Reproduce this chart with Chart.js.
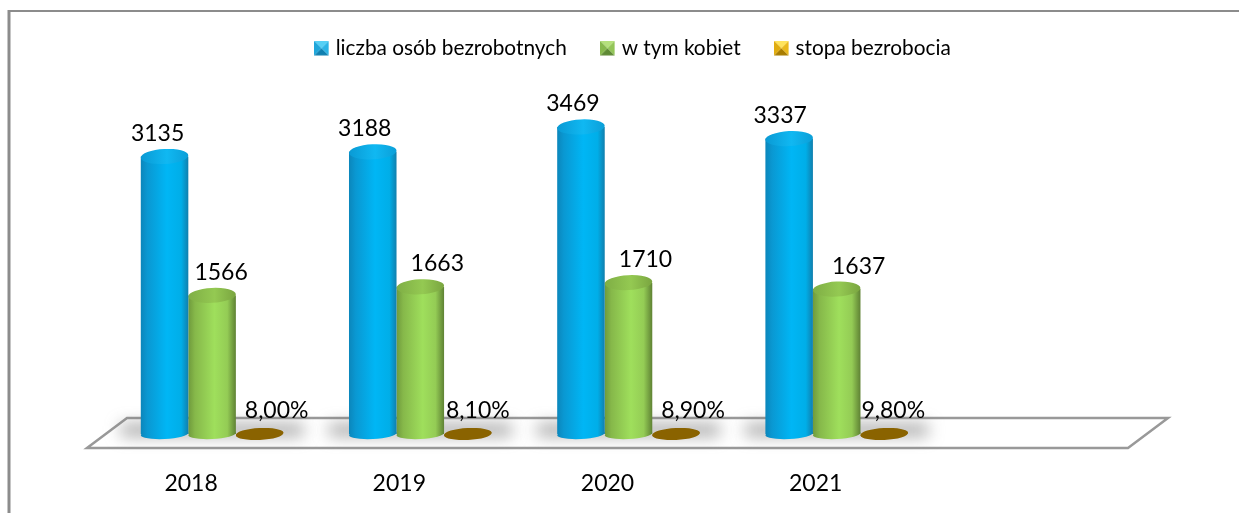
<!DOCTYPE html>
<html lang="pl"><head><meta charset="utf-8">
<style>html,body{margin:0;padding:0;background:#fff}#w{width:1239px;height:513px;position:relative}</style>
<script src="https://cdn.jsdelivr.net/npm/chart.js@4"></script>
</head><body><div id="w"><canvas id="c" width="1239" height="513"></canvas></div>
<script>
const categories = ['2018', '2019', '2020', '2021', ''];
const seriesNames = ['liczba osób bezrobotnych', 'w tym kobiet', 'stopa bezrobocia'];
const bezrobotni = [3135, 3188, 3469, 3337, null];
const kobiety = [1566, 1663, 1710, 1637, null];
const stopa = [0.08, 0.081, 0.089, 0.098, null];

// manual horizontal shifts of the value labels, as placed in the source chart
const labelShiftBlue = [-7, -8, -8, -9];
const labelShiftGreen = [9, 17, 17, 22];
const labelShiftBrown = [17, 10, 17, 9];

const FONT = 'Lato, Carlito, Calibri, sans-serif';
const ramps = [
  [[0,'#0b86bb'],[0.14,'#0a98d2'],[0.55,'#00b6f5'],[0.85,'#00aee8'],[1,'#117fad']],
  [[0,'#6f9a3c'],[0.14,'#86b84a'],[0.55,'#9fdf5c'],[0.82,'#94cc55'],[1,'#5f8234']],
  [[0,'#7f5c00'],[1,'#8f6700']]
];
const capRamps = [
  [[0,'#0a9ad4'],[0.55,'#10b8f2'],[1,'#0b9fd8']],
  [[0,'#7fae45'],[0.55,'#94c952'],[1,'#7aa540']],
  [[0,'#8a6300'],[1,'#8a6300']]
];
const swatchCols = [
  ['#55d0f5','#0f7fb0','#1fa6da','#2bb4e6'],
  ['#b5e07c','#5f8a35','#86b84c','#93c558'],
  ['#ffe45c','#a87c00','#e0ac10','#eab91c']
];
function swatch(i){
  const c = document.createElement('canvas'); c.width = 15; c.height = 15;
  const g = c.getContext('2d'), [t,b,l,r] = swatchCols[i], s = 14.5;
  const poly = (col, pts) => { g.fillStyle = col; g.beginPath(); pts.forEach((p,k)=>k?g.lineTo(p[0],p[1]):g.moveTo(p[0],p[1])); g.closePath(); g.fill(); };
  poly(t,[[0,0],[s,0],[s/2,s/2]]);
  poly(b,[[0,s],[s,s],[s/2,s/2]]);
  poly(l,[[0,0],[0,s],[s/2,s/2]]);
  poly(r,[[s,0],[s,s],[s/2,s/2]]);
  return c;
}
const swatches = [0,1,2].map(swatch);

function hGrad(ctx, x0, x1, stops){
  const g = ctx.createLinearGradient(x0,0,x1,0);
  stops.forEach(s=>g.addColorStop(s[0],s[1]));
  return g;
}
const TILT = -0.05;
const scene = {
  id: 'scene',
  afterLayout(chart){ if (chart.legend){ chart.legend.left += 6; chart.legend.right += 6; chart.legend.top -= 0.5; } },
  beforeDatasetsDraw(chart){
    const {ctx, chartArea:a} = chart;
    ctx.save();
    // frame
    ctx.strokeStyle = '#8c8c8c'; ctx.lineWidth = 2;
    ctx.beginPath(); ctx.moveTo(9,11); ctx.lineTo(1239,11); ctx.stroke();
    ctx.lineWidth = 3;
    ctx.beginPath(); ctx.moveTo(9,10); ctx.lineTo(9,513); ctx.stroke();
    // floor
    const yb = a.bottom + 14, yt = a.bottom - 16;
    ctx.strokeStyle = '#999'; ctx.lineWidth = 2.5; ctx.lineJoin = 'miter';
    ctx.fillStyle = '#fff';
    ctx.beginPath(); ctx.moveTo(a.left-21,yb); ctx.lineTo(a.left+19,yt); ctx.lineTo(a.right+19,yt); ctx.lineTo(a.right-21,yb); ctx.closePath(); ctx.fill(); ctx.stroke();
    // soft shadows on the floor
    const m0 = chart.getDatasetMeta(0), m2 = chart.getDatasetMeta(2);
    ctx.filter = 'blur(8px)'; ctx.fillStyle = 'rgba(110,110,110,0.62)';
    categories.forEach((_,i)=>{
      if (bezrobotni[i]==null) return;
      const b0 = m0.data[i], b2 = m2.data[i];
      const l = b0.x - b0.width/2 - 20, r = b2.x + b2.width/2 + 20;
      ctx.fillRect(l, a.bottom - 10, r - l, 12);
    });
    ctx.filter = 'none';
    ctx.restore();
  },
  beforeDatasetDraw(chart, args){
    const i = args.index, vals = chart.data.datasets[i].data;
    args.meta.data.forEach((el,k)=>{
      if (vals[k]==null) return;
      el.options = Object.assign({}, el.options, {backgroundColor: hGrad(chart.ctx, el.x-el.width/2, el.x+el.width/2, ramps[i])});
    });
  },
  afterDatasetDraw(chart, args){
    const {ctx, chartArea:a} = chart, i = args.index, meta = args.meta, vals = chart.data.datasets[i].data;
    ctx.save();
    meta.data.forEach((el,k)=>{
      if (vals[k]==null) return;
      const rx = el.width/2, x0 = el.x-rx, x1 = el.x+rx;
      // bottom rounding
      ctx.fillStyle = hGrad(ctx,x0,x1,ramps[i]);
      ctx.beginPath(); ctx.ellipse(el.x,a.bottom,rx,5,TILT,0,Math.PI*2); ctx.fill();
      // top cap
      ctx.fillStyle = hGrad(ctx,x0,x1,capRamps[i]);
      ctx.beginPath(); ctx.ellipse(el.x,el.y,rx,i===2?6:7.5,TILT,0,Math.PI*2); ctx.fill();
    });
    ctx.restore();
  },
  afterDatasetsDraw(chart){
    const {ctx} = chart;
    ctx.save();
    ctx.fillStyle = '#000'; ctx.font = '23px '+FONT; ctx.textAlign = 'center'; ctx.textBaseline = 'middle';
    const shifts = [labelShiftBlue,labelShiftGreen,labelShiftBrown];
    [0,1,2].forEach(i=>{
      const vals = chart.data.datasets[i].data;
      chart.getDatasetMeta(i).data.forEach((el,k)=>{
        if (vals[k]==null) return;
        const t = i===2 ? (vals[k]*100).toFixed(2).replace('.',',')+'%' : String(vals[k]);
        ctx.fillText(t, el.x + shifts[i][k], el.y - 23);
      });
    });
    ctx.restore();
  }
};
new Chart(document.getElementById('c'), {
  type: 'bar',
  plugins: [scene],
  data: { labels: categories, datasets: [
    {label: seriesNames[0], data: bezrobotni, backgroundColor: '#00b0f0'},
    {label: seriesNames[1], data: kobiety, backgroundColor: '#92d050'},
    {label: seriesNames[2], data: stopa, backgroundColor: '#8a6300'}
  ]},
  options: {
    responsive: false, animation: false,
    layout: {padding: {left: 108, right: 90, top: 1, bottom: 0}},
    categoryPercentage: 0.685, barPercentage: 1,
    plugins: {
      tooltip: {enabled: false},
      legend: {
        display: true, position: 'top', onClick: null,
        labels: {
          usePointStyle: true, pointStyleWidth: 7, padding: 37.5, color: '#000',
          font: {family: FONT, size: 20.8},
          generateLabels: (chart) => chart.data.datasets.map((d,i)=>({text: d.label, pointStyle: swatches[i], fillStyle:'#000', strokeStyle:'#000', lineWidth:0, datasetIndex:i, fontColor:'#000'}))
        }
      }
    },
    scales: {
      x: {
        grid: {display:false}, border: {display:false},
        ticks: {color:'#000', padding: 28, labelOffset: -21, maxRotation: 0, font: {family: FONT, size: 23}},
        afterFit: s => { s.height = 79; }
      },
      y: {display:false, min:0, max:4120}
    }
  }
});
</script></body></html>
